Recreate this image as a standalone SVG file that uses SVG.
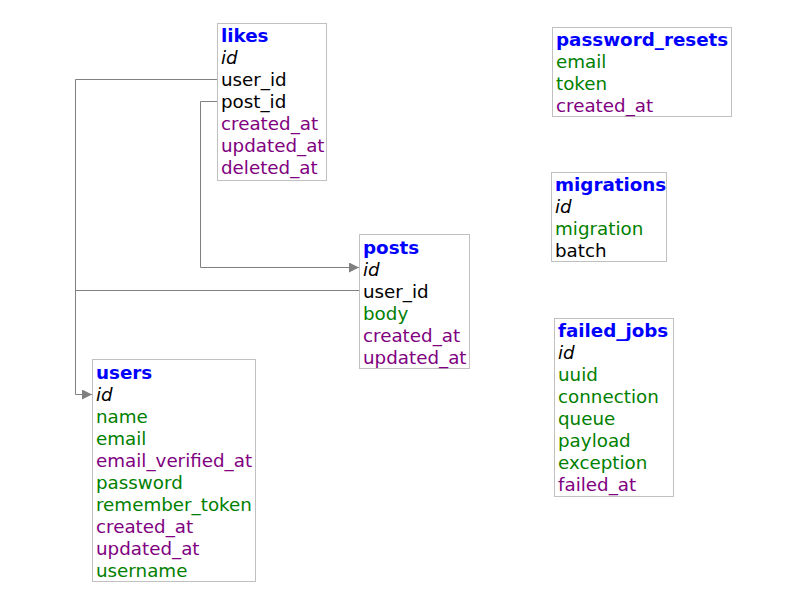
<svg xmlns="http://www.w3.org/2000/svg" width="794" height="615" viewBox="0 0 794 615">
<style>
text{font-family:"DejaVu Sans",Verdana,sans-serif;font-size:18.3px}
.box{fill:#fff;stroke:#c0c0c0;stroke-width:1}
.t{fill:#0000ff;font-weight:bold}
.pk{fill:#000;font-style:italic}
.fk{fill:#000}
.g{fill:#008000}
.p{fill:#800080}
.c{fill:none;stroke:#808080;stroke-width:1}
</style>
<defs>
<marker id="arr" markerWidth="10" markerHeight="10" refX="10" refY="5" orient="auto" markerUnits="userSpaceOnUse">
<path d="M0,0 L10,5 L0,10 z" fill="#808080"/>
</marker>
</defs>
<rect width="794" height="615" fill="#fff"/>
<g id="connectors">
<path class="c" d="M217.5,79.5 H75.5 V394.5 H92" marker-end="url(#arr)"/>
<path class="c" d="M217.5,101.5 H200.5 V267.5 H359" marker-end="url(#arr)"/>
<path class="c" d="M359.5,290.5 H75.5"/>
</g>
<g id="likes">
<rect class="box" x="217.5" y="23.5" width="109" height="157"/>
<text class="t" x="221" y="42">likes</text>
<text class="pk" x="221" y="64">id</text>
<text class="fk" x="221" y="86">user_id</text>
<text class="fk" x="221" y="108">post_id</text>
<text class="p" x="221" y="130">created_at</text>
<text class="p" x="221" y="152">updated_at</text>
<text class="p" x="221" y="174">deleted_at</text>
</g>
<g id="posts">
<rect class="box" x="359.5" y="234.5" width="110" height="134"/>
<text class="t" x="363" y="254">posts</text>
<text class="pk" x="363" y="276">id</text>
<text class="fk" x="363" y="298">user_id</text>
<text class="g" x="363" y="320">body</text>
<text class="p" x="363" y="342">created_at</text>
<text class="p" x="363" y="364">updated_at</text>
</g>
<g id="users">
<rect class="box" x="92.5" y="359.5" width="163" height="222"/>
<text class="t" x="96" y="379">users</text>
<text class="pk" x="96" y="401">id</text>
<text class="g" x="96" y="423">name</text>
<text class="g" x="96" y="445">email</text>
<text class="p" x="96" y="467">email_verified_at</text>
<text class="g" x="96" y="489">password</text>
<text class="g" x="96" y="511">remember_token</text>
<text class="p" x="96" y="533">created_at</text>
<text class="p" x="96" y="555">updated_at</text>
<text class="g" x="96" y="577">username</text>
</g>
<g id="password_resets">
<rect class="box" x="552.5" y="27.5" width="179" height="89"/>
<text class="t" x="556" y="46">password_resets</text>
<text class="g" x="556" y="68">email</text>
<text class="g" x="556" y="90">token</text>
<text class="p" x="556" y="112">created_at</text>
</g>
<g id="migrations">
<rect class="box" x="551.5" y="172.5" width="115" height="89"/>
<text class="t" x="555" y="191">migrations</text>
<text class="pk" x="555" y="213">id</text>
<text class="g" x="555" y="235">migration</text>
<text class="fk" x="555" y="257">batch</text>
</g>
<g id="failed_jobs">
<rect class="box" x="554.5" y="318.5" width="119" height="178"/>
<text class="t" x="558" y="337">failed_jobs</text>
<text class="pk" x="558" y="359">id</text>
<text class="g" x="558" y="381">uuid</text>
<text class="g" x="558" y="403">connection</text>
<text class="g" x="558" y="425">queue</text>
<text class="g" x="558" y="447">payload</text>
<text class="g" x="558" y="469">exception</text>
<text class="p" x="558" y="491">failed_at</text>
</g>
</svg>
